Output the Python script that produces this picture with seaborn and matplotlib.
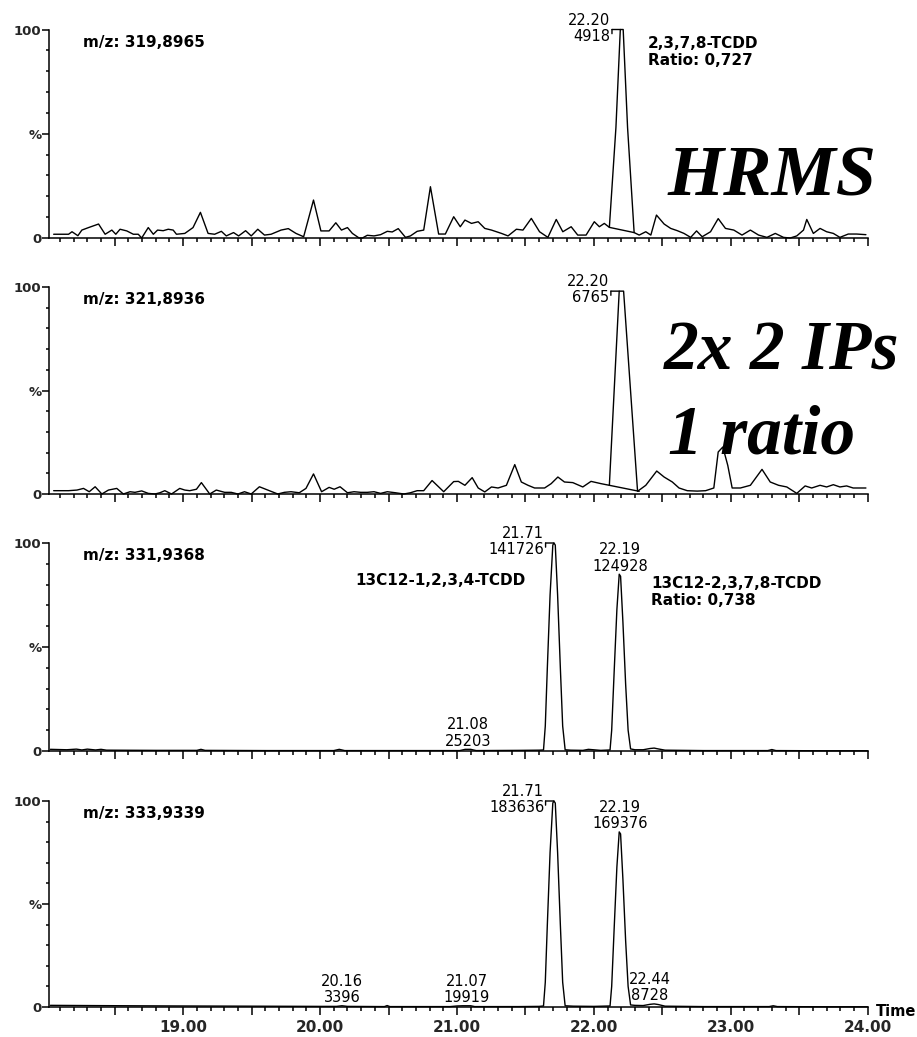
import numpy as np
import pandas as pd
import seaborn as sns
import matplotlib
matplotlib.use("Agg")
import matplotlib.pyplot as plt
from matplotlib.ticker import MultipleLocator, FixedLocator, FuncFormatter
from matplotlib.transforms import offset_copy

# ---------------- data ----------------
mz_labels = ["m/z: 319,8965", "m/z: 321,8936", "m/z: 331,9368", "m/z: 333,9339"]

t1 = [18.054, 18.163, 18.188, 18.231, 18.260, 18.309, 18.382, 18.430, 18.479, 18.508,
      18.539, 18.588, 18.636, 18.672, 18.697, 18.745, 18.782, 18.813, 18.854, 18.891,
      18.927, 18.951, 19.012, 19.072, 19.126, 19.182, 19.230, 19.279, 19.315, 19.368,
      19.405, 19.456, 19.497, 19.545, 19.594, 19.642, 19.715, 19.768, 19.824, 19.880,
      19.952, 20.006, 20.066, 20.115, 20.156, 20.200, 20.236, 20.285, 20.309, 20.345,
      20.394, 20.442, 20.491, 20.527, 20.571, 20.624, 20.660, 20.709, 20.757, 20.806,
      20.866, 20.915, 20.976, 21.024, 21.058, 21.106, 21.155, 21.203, 21.252, 21.325,
      21.373, 21.434, 21.482, 21.543, 21.603, 21.664, 21.725, 21.773, 21.834, 21.882,
      21.943, 22.003, 22.040, 22.076, 22.113, 22.161, 22.193, 22.214, 22.246, 22.294,
      22.331, 22.379, 22.416, 22.457, 22.513, 22.561, 22.610, 22.658, 22.707, 22.750,
      22.791, 22.852, 22.908, 22.961, 23.022, 23.082, 23.143, 23.203, 23.264, 23.325,
      23.385, 23.434, 23.482, 23.531, 23.555, 23.603, 23.652, 23.700, 23.749, 23.797,
      23.858, 23.919, 23.987]
i1 = [1.8, 1.8, 3.0, 1.1, 3.8, 5.0, 6.7, 1.8, 3.8, 1.8,
      4.2, 3.4, 1.8, 1.8, 0.0, 5.0, 1.8, 3.8, 3.5, 4.2,
      3.8, 1.8, 2.2, 5.0, 12.3, 2.2, 1.8, 3.2, 1.0, 2.6,
      1.0, 3.5, 1.0, 4.2, 1.4, 1.8, 3.8, 4.5, 2.2, 0.6,
      18.2, 3.4, 3.4, 7.3, 3.8, 5.0, 2.2, 0.0, 0.0, 1.3,
      1.0, 1.6, 3.2, 2.9, 4.5, 0.3, 1.0, 3.2, 3.8, 24.6,
      1.9, 1.9, 10.2, 5.4, 8.6, 7.0, 7.8, 4.6, 3.8, 2.2,
      1.0, 4.2, 3.8, 9.4, 3.0, 0.3, 8.9, 3.0, 5.4, 1.4,
      1.4, 7.8, 5.4, 7.0, 5.1, 53.0, 100.0, 100.0, 53.0, 2.6,
      1.4, 3.0, 1.4, 11.0, 6.7, 4.6, 3.5, 2.2, 0.3, 3.4,
      0.6, 3.0, 9.3, 4.6, 3.8, 1.4, 3.8, 1.4, 0.3, 2.2,
      0.3, 0.0, 1.0, 3.8, 8.9, 2.2, 4.6, 3.0, 2.2, 0.3,
      1.9, 1.9, 1.6]

t2 = [18.054, 18.163, 18.224, 18.272, 18.314, 18.357, 18.406, 18.454, 18.515, 18.563,
      18.612, 18.648, 18.697, 18.745, 18.794, 18.830, 18.866, 18.915, 18.975, 19.012,
      19.048, 19.097, 19.133, 19.194, 19.242, 19.303, 19.351, 19.400, 19.448, 19.497,
      19.557, 19.618, 19.691, 19.739, 19.788, 19.848, 19.897, 19.952, 20.011, 20.066,
      20.103, 20.146, 20.200, 20.248, 20.297, 20.345, 20.394, 20.442, 20.491, 20.551,
      20.612, 20.660, 20.709, 20.757, 20.818, 20.903, 20.976,
      21.010, 21.058, 21.111, 21.155, 21.203, 21.252, 21.300, 21.361, 21.422, 21.470,
      21.519, 21.567, 21.640, 21.688, 21.737, 21.785, 21.846, 21.919, 21.979, 22.052,
      22.113, 22.185, 22.217, 22.319, 22.379, 22.459, 22.513, 22.573, 22.622, 22.682,
      22.755, 22.816, 22.876, 22.908, 22.942, 22.978, 23.010, 23.070, 23.143, 23.228,
      23.288, 23.349, 23.409, 23.482, 23.543, 23.591, 23.652, 23.700, 23.749, 23.797,
      23.846, 23.894, 23.943, 23.987]
i2 = [1.6, 1.6, 1.9, 2.7, 1.1, 3.5, 0.0, 1.9, 2.7, 0.0,
      1.1, 0.8, 1.5, 0.3, 0.0, 0.6, 1.6, 0.0, 2.7, 1.9,
      1.6, 2.3, 5.5, 0.0, 1.9, 0.8, 0.8, 0.0, 1.1, 0.0,
      3.5, 1.9, 0.0, 0.8, 1.1, 0.6, 2.7, 9.7, 1.1, 3.2,
      2.3, 3.5, 0.6, 1.1, 0.8, 0.8, 1.1, 0.3, 1.1, 0.6,
      0.0, 0.6, 1.6, 1.6, 6.5, 1.1, 6.0,
      6.1, 4.2, 7.9, 2.9, 1.0, 3.4, 2.9, 4.2, 14.2, 5.8,
      4.2, 2.9, 2.9, 5.0, 8.2, 5.8, 5.5, 3.4, 6.1, 5.0,
      4.2, 98.0, 98.0, 1.3, 4.2, 11.1, 8.2, 5.8, 2.9, 1.6,
      1.4, 1.6, 2.9, 20.3, 22.7, 13.8, 2.9, 2.9, 4.2, 11.9,
      5.8, 4.2, 3.4, 0.3, 3.9, 2.9, 4.2, 3.4, 4.5, 3.4,
      3.9, 2.9, 2.9, 2.9]

t3 = [18.03, 18.15, 18.22, 18.26, 18.30, 18.36, 18.40, 18.44, 18.80, 19.10,
      19.13, 19.16, 19.60, 20.10, 20.14, 20.18, 20.60, 21.02, 21.06, 21.10,
      21.14, 21.45, 21.60, 21.632, 21.645, 21.66, 21.68, 21.70, 21.708, 21.718,
      21.735, 21.755, 21.772, 21.79, 21.83, 21.92, 21.96, 22.05, 22.118, 22.13,
      22.148, 22.168, 22.185, 22.195, 22.212, 22.232, 22.25, 22.268, 22.30, 22.36,
      22.41, 22.44, 22.47, 22.52, 22.80, 23.27, 23.30, 23.33, 23.70, 24.0]
i3 = [0.8, 0.6, 0.9, 0.5, 0.9, 0.5, 0.8, 0.4, 0.3, 0.3,
      0.8, 0.3, 0.2, 0.2, 0.8, 0.2, 0.2, 0.2, 0.8, 0.8,
      0.2, 0.3, 0.4, 0.5, 12.0, 40.0, 75.0, 99.0, 100.0, 99.0,
      75.0, 40.0, 12.0, 0.6, 0.4, 0.3, 0.8, 0.3, 0.5, 10.0,
      38.0, 68.0, 85.0, 84.0, 62.0, 32.0, 10.0, 1.0, 0.6, 0.6,
      1.2, 1.4, 1.0, 0.4, 0.2, 0.2, 0.7, 0.2, 0.1, 0.1]

t4 = [18.03, 18.30, 18.60, 19.00, 19.50, 20.00, 20.12, 20.16, 20.20, 20.47,
      20.49, 20.51, 20.95, 21.00, 21.04, 21.10, 21.13, 21.45, 21.60, 21.632,
      21.645, 21.66, 21.68, 21.70, 21.708, 21.718, 21.735, 21.755, 21.772, 21.79,
      21.85, 22.00, 22.118, 22.13, 22.148, 22.168, 22.185, 22.195, 22.212, 22.232,
      22.25, 22.268, 22.30, 22.36, 22.41, 22.44, 22.47, 22.52, 22.80, 23.28,
      23.31, 23.34, 23.70, 24.0]
i4 = [0.8, 0.7, 0.6, 0.5, 0.4, 0.3, 0.3, 0.6, 0.3, 0.2,
      0.7, 0.2, 0.2, 0.5, 0.6, 0.6, 0.2, 0.2, 0.3, 0.5,
      12.0, 40.0, 75.0, 99.0, 100.0, 99.0, 75.0, 40.0, 12.0, 0.6,
      0.4, 0.3, 0.5, 10.0, 38.0, 68.0, 85.0, 84.0, 62.0, 32.0,
      10.0, 1.0, 0.8, 0.7, 1.3, 1.5, 1.2, 0.4, 0.2, 0.2,
      0.6, 0.2, 0.1, 0.1]

# integration baselines drawn under the native peaks (start time, start %, end time, end %)
baselines = [[(22.113, 5.1), (22.294, 2.6)], [(22.113, 4.2), (22.331, 1.3)], [], []]

# peak annotations: (time, %, text, kind)
peak_labels = [
    [(22.193, 100.0, "22.20\n4918", "bracket")],
    [(22.185, 98.0, "22.20\n6765", "bracket")],
    [(21.708, 100.0, "21.71\n141726", "bracket"),
     (22.19, 85.0, "22.19\n124928", "above"),
     (21.08, 0.8, "21.08\n25203", "above")],
    [(21.708, 100.0, "21.71\n183636", "bracket"),
     (22.19, 85.0, "22.19\n169376", "above"),
     (20.16, 0.6, "20.16\n3396", "above"),
     (21.07, 0.6, "21.07\n19919", "above"),
     (22.44, 1.5, "22.44\n8728", "above_left")],
]

# compound labels: (time, %, text, ha)
compound_labels = [
    [(22.396, 97.0, "2,3,7,8-TCDD\nRatio: 0,727", "left")],
    [],
    [(21.50, 85.5, "13C12-1,2,3,4-TCDD", "right"),
     (22.418, 84.0, "13C12-2,3,7,8-TCDD\nRatio: 0,738", "left")],
    [],
]

big_texts = ["HRMS", "2x 2 IPs", "1 ratio"]
x_tick_values = [19.0, 20.0, 21.0, 22.0, 23.0, 24.0]

traces = [(t1, i1), (t2, i2), (t3, i3), (t4, i4)]

# ---------------- layout ----------------
sns.set_theme(style="white")
plt.rcParams["font.family"] = ["DejaVu Sans"]

W, H = 917, 1037
fig = plt.figure(figsize=(W / 100, H / 100), dpi=100)
left_px, right_px = 49.0, 867.7
panel_px = [(29.5, 238.0), (287.0, 494.0), (543.0, 751.0), (801.0, 1007.0)]

axes = []
for k, (top, bot) in enumerate(panel_px):
    ax = fig.add_axes([left_px / W, 1 - bot / H, (right_px - left_px) / W, (bot - top) / H])
    axes.append(ax)
    t, y = traces[k]
    df = pd.DataFrame({"time": t, "pct": y})
    sns.lineplot(data=df, x="time", y="pct", ax=ax, color="black", lw=1.0,
                 estimator=None, sort=False)
    for (a, b) in ([baselines[k]] if baselines[k] else []):
        sns.lineplot(x=[a[0], b[0]], y=[a[1], b[1]], ax=ax, color="black", lw=1.0,
                     estimator=None, sort=False)
    for ln in ax.lines:
        ln.set_clip_on(False)

    ax.set_xlim(18.02, 24.0)
    ax.set_ylim(0, 100)
    ax.set_xlabel("")
    ax.set_ylabel("")
    sns.despine(ax=ax)
    for s in ("left", "bottom"):
        ax.spines[s].set_color("black")
        ax.spines[s].set_linewidth(1.1)

    ax.xaxis.set_major_locator(MultipleLocator(0.5))
    ax.xaxis.set_minor_locator(MultipleLocator(0.1))
    ax.tick_params(axis="x", which="major", direction="out", length=6, width=1.1,
                   color="black", bottom=True, pad=3)
    ax.tick_params(axis="x", which="minor", direction="out", length=3, width=1.1,
                   color="black", bottom=True)
    ax.yaxis.set_major_locator(FixedLocator([0, 50, 100]))
    ax.yaxis.set_minor_locator(MultipleLocator(10))
    ax.set_yticklabels(["0", "%", "100"], fontweight="bold", fontsize=9.5)
    ax.tick_params(axis="y", which="major", direction="out", length=5, width=1.1,
                   color="black", left=True, pad=0.5)
    ax.tick_params(axis="y", which="minor", direction="out", length=2.5, width=1.1,
                   color="black", left=True)

    if k == 3:
        ax.xaxis.set_major_formatter(FuncFormatter(
            lambda v, p: f"{v:.2f}" if any(abs(v - q) < 1e-6 for q in x_tick_values) else ""))
        for lab in ax.get_xticklabels():
            lab.set_fontweight("bold")
            lab.set_fontsize(11)
    else:
        ax.tick_params(axis="x", labelbottom=False)

    ax.text(18.27, 97.6, mz_labels[k], fontsize=11, fontweight="bold", ha="left",
            va="top", color="black")

    for (pt, pi, txt, kind) in peak_labels[k]:
        if kind == "bracket":
            ax.annotate(txt, xy=(pt, pi), xytext=(-7, 1), textcoords="offset points",
                        ha="right", va="center", fontsize=10.5, linespacing=1.1,
                        color="black", annotation_clip=False)
            ax.annotate("", xy=(pt, pi), xytext=(-6, 0), textcoords="offset points",
                        arrowprops=dict(arrowstyle="-", lw=1.0, color="black",
                                        shrinkA=0, shrinkB=0), annotation_clip=False)
            ax.annotate("", xy=(pt, pi),
                        xycoords=offset_copy(ax.transData, fig=fig, x=-6, y=0, units="points"),
                        xytext=(0, -3), textcoords="offset points",
                        arrowprops=dict(arrowstyle="-", lw=1.0, color="black",
                                        shrinkA=0, shrinkB=0), annotation_clip=False)
        else:
            dx = -3 if kind == "above_left" else 0
            ax.annotate(txt, xy=(pt, pi), xytext=(dx, 0.5), textcoords="offset points",
                        ha="center", va="bottom", fontsize=10.5, linespacing=1.1,
                        color="black", annotation_clip=False)

    for (ct, ci, txt, ha) in compound_labels[k]:
        ax.text(ct, ci, txt, fontsize=11, fontweight="bold", ha=ha, va="top",
                linespacing=1.15, color="black")

# big serif annotations
big_font = dict(family=["Liberation Serif", "DejaVu Serif"], fontweight="bold",
                fontstyle="italic", color="black", ha="left", va="baseline")
fig.text(668 / W, 1 - 195 / H, big_texts[0], fontsize=52, **big_font)
fig.text(664 / W, 1 - 369 / H, big_texts[1], fontsize=50, **big_font)
fig.text(668 / W, 1 - 453 / H, big_texts[2], fontsize=50, **big_font)

fig.text(876 / W, 1 - 1012 / H, "Time", fontsize=10.5, fontweight="bold",
         ha="left", va="center", color="black")

fig.savefig("out.png", dpi=100, facecolor="white")
